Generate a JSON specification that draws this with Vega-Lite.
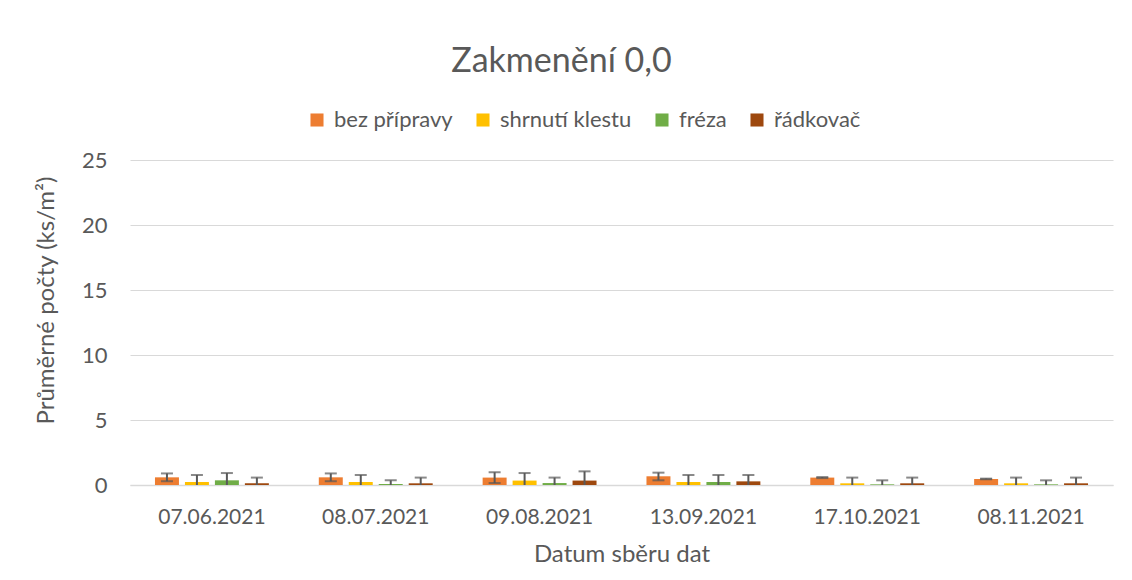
{
  "$schema": "https://vega.github.io/schema/vega-lite/v6.json",
  "width": 983,
  "height": 325,
  "autosize": {"type": "none"},
  "padding": {"left": 130, "top": 160, "right": 19, "bottom": 95},
  "background": "white",
  "title": {
    "text": "Zakmenění 0,0",
    "fontSize": 34,
    "font": "Lato",
    "fontWeight": "normal",
    "color": "#595959",
    "anchor": "middle",
    "dx": -60,
    "offset": 30
  },
  "config": {
    "font": "Lato",
    "view": {"stroke": null}
  },
  "data": {
    "values": [
      {"date": "07.06.2021", "series": "bez přípravy", "mean": 0.59, "lo": 0.29, "hi": 0.89},
      {"date": "07.06.2021", "series": "shrnutí klestu", "mean": 0.23, "lo": 0, "hi": 0.77},
      {"date": "07.06.2021", "series": "fréza", "mean": 0.36, "lo": 0, "hi": 0.92},
      {"date": "07.06.2021", "series": "řádkovač", "mean": 0.13, "lo": 0, "hi": 0.57},
      {"date": "08.07.2021", "series": "bez přípravy", "mean": 0.59, "lo": 0.29, "hi": 0.89},
      {"date": "08.07.2021", "series": "shrnutí klestu", "mean": 0.23, "lo": 0, "hi": 0.77},
      {"date": "08.07.2021", "series": "fréza", "mean": 0.08, "lo": 0, "hi": 0.36},
      {"date": "08.07.2021", "series": "řádkovač", "mean": 0.13, "lo": 0, "hi": 0.57},
      {"date": "09.08.2021", "series": "bez přípravy", "mean": 0.57, "lo": 0.15, "hi": 0.98},
      {"date": "09.08.2021", "series": "shrnutí klestu", "mean": 0.34, "lo": 0, "hi": 0.92},
      {"date": "09.08.2021", "series": "fréza", "mean": 0.15, "lo": 0, "hi": 0.57},
      {"date": "09.08.2021", "series": "řádkovač", "mean": 0.34, "lo": 0, "hi": 1.05},
      {"date": "13.09.2021", "series": "bez přípravy", "mean": 0.67, "lo": 0.36, "hi": 0.95},
      {"date": "13.09.2021", "series": "shrnutí klestu", "mean": 0.23, "lo": 0, "hi": 0.77},
      {"date": "13.09.2021", "series": "fréza", "mean": 0.23, "lo": 0, "hi": 0.77},
      {"date": "13.09.2021", "series": "řádkovač", "mean": 0.28, "lo": 0, "hi": 0.77},
      {"date": "17.10.2021", "series": "bez přípravy", "mean": 0.57, "lo": 0.53, "hi": 0.61},
      {"date": "17.10.2021", "series": "shrnutí klestu", "mean": 0.13, "lo": 0, "hi": 0.57},
      {"date": "17.10.2021", "series": "fréza", "mean": 0.05, "lo": 0, "hi": 0.36},
      {"date": "17.10.2021", "series": "řádkovač", "mean": 0.13, "lo": 0, "hi": 0.57},
      {"date": "08.11.2021", "series": "bez přípravy", "mean": 0.46, "lo": 0.44, "hi": 0.49},
      {"date": "08.11.2021", "series": "shrnutí klestu", "mean": 0.13, "lo": 0, "hi": 0.57},
      {"date": "08.11.2021", "series": "fréza", "mean": 0.05, "lo": 0, "hi": 0.36},
      {"date": "08.11.2021", "series": "řádkovač", "mean": 0.13, "lo": 0, "hi": 0.57}
    ]
  },
  "encoding": {
    "x": {
      "field": "date",
      "type": "nominal",
      "sort": null,
      "scale": {"paddingInner": 0, "paddingOuter": 0},
      "axis": {
        "title": "Datum sběru dat",
        "titleFontSize": 24,
        "titleFontWeight": "normal",
        "titleColor": "#595959",
        "titlePadding": 15,
        "labelAngle": 0,
        "labelFontSize": 21,
        "labelColor": "#595959",
        "labelPadding": 21,
        "ticks": false,
        "domainColor": "#d9d9d9",
        "domainWidth": 1.5
      }
    },
    "xOffset": {
      "field": "series",
      "type": "nominal",
      "sort": ["bez přípravy", "shrnutí klestu", "fréza", "řádkovač"],
      "scale": {"paddingInner": 0.2, "paddingOuter": 0.833}
    }
  },
  "layer": [
    {
      "mark": {"type": "bar"},
      "encoding": {
        "y": {
          "field": "mean",
          "type": "quantitative",
          "scale": {"domain": [0, 25], "nice": false},
          "axis": {
            "title": "Průměrné počty (ks/m²)",
            "titleFontSize": 24,
            "titleFontWeight": "normal",
            "titleColor": "#595959",
            "titlePadding": 23,
            "titleY": 140,
            "values": [0, 5, 10, 15, 20, 25],
            "labelFontSize": 22,
            "labelColor": "#595959",
            "labelPadding": 23,
            "ticks": false,
            "domain": false,
            "gridColor": "#d9d9d9",
            "gridWidth": 1.2
          }
        },
        "color": {
          "field": "series",
          "type": "nominal",
          "sort": ["bez přípravy", "shrnutí klestu", "fréza", "řádkovač"],
          "scale": {
            "domain": ["bez přípravy", "shrnutí klestu", "fréza", "řádkovač"],
            "range": ["#ED7D31", "#FFC000", "#70AD47", "#9E480E"]
          },
          "legend": {
            "title": null,
            "orient": "none",
            "direction": "horizontal",
            "legendX": 176,
            "legendY": -51,
            "symbolType": "square",
            "symbolSize": 170,
            "symbolStrokeWidth": 0,
            "labelFontSize": 22,
            "labelColor": "#595959",
            "labelOffset": 6,
            "columnPadding": 19
          }
        }
      }
    },
    {
      "mark": {"type": "rule", "color": "#595959", "strokeWidth": 2},
      "encoding": {
        "y": {"field": "lo", "type": "quantitative"},
        "y2": {"field": "hi"}
      }
    },
    {
      "mark": {"type": "tick", "color": "#595959", "thickness": 2, "size": 12},
      "encoding": {
        "y": {"field": "hi", "type": "quantitative"}
      }
    },
    {
      "transform": [{"filter": "datum.lo > 0"}],
      "mark": {"type": "tick", "color": "#595959", "thickness": 2, "size": 12},
      "encoding": {
        "y": {"field": "lo", "type": "quantitative"}
      }
    }
  ]
}
